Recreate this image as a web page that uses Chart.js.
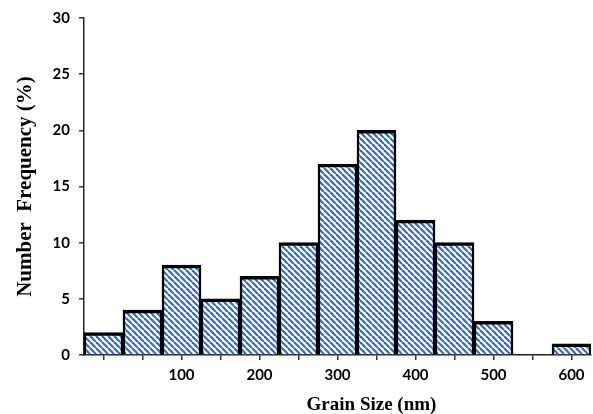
<!DOCTYPE html>
<html>
<head>
<meta charset="utf-8">
<script src="https://cdn.jsdelivr.net/npm/chart.js@4.4.1/dist/chart.umd.min.js"></script>
<style>
  html, body { margin: 0; padding: 0; background: #fff; }
  #wrap { width: 593px; height: 414px; }
</style>
</head>
<body>
<div id="wrap"><canvas id="grain-chart"></canvas></div>
<script>
  // grain size histogram, bins are 50 nm wide
  const binCenters = [0, 50, 100, 150, 200, 250, 300, 350, 400, 450, 500, 550, 600];
  const frequency = [2, 4, 8, 5, 7, 10, 17, 20, 12, 10, 3, 0, 1];
  const xTickValues = [0, 50, 100, 150, 200, 250, 300, 350, 400, 450, 500, 550, 600];
  const xTickLabels = ["", "", "100", "", "200", "", "300", "", "400", "", "500", "", "600"];
  const yTickValues = [0, 5, 10, 15, 20, 25, 30];

  // diagonal hatch fill
  function makeHatch() {
    const s = 6;
    const c = document.createElement("canvas");
    c.width = s;
    c.height = s;
    const g = c.getContext("2d");
    g.fillStyle = "#ffffff";
    g.fillRect(0, 0, s, s);
    g.strokeStyle = "#2f6cc8";
    g.lineWidth = 2.2;
    for (let x0 = -s; x0 <= s; x0 += s) {
      g.beginPath();
      g.moveTo(x0, 0);
      g.lineTo(x0 + s, s);
      g.stroke();
    }
    return g.createPattern(c, "repeat");
  }

  const tickFont = { family: "Lato", size: 15, weight: "bold" };

  // x axis title sits a little right of the plot centre
  const xTitlePlugin = {
    id: "xTitle",
    afterDraw(chart) {
      const ctx = chart.ctx;
      const area = chart.chartArea;
      ctx.save();
      ctx.font = "bold 19px 'Liberation Serif'";
      ctx.fillStyle = "#000";
      ctx.textAlign = "center";
      ctx.textBaseline = "alphabetic";
      ctx.fillText("Grain Size (nm)", (area.left + area.right) / 2 + 34, 410);
      ctx.restore();
    }
  };

  document.addEventListener("DOMContentLoaded", function () {
    const ctx = document.getElementById("grain-chart").getContext("2d");
    const points = binCenters.map((x, i) => ({ x: x, y: frequency[i] }));

    new Chart(ctx, {
      type: "bar",
      data: {
        datasets: [
          {
            data: points,
            backgroundColor: makeHatch(),
            borderColor: "#000000",
            borderWidth: { top: 3.5, left: 2.5, right: 2.5, bottom: 0 },
            borderSkipped: "bottom",
            barPercentage: 1.0,
            categoryPercentage: 1.0,
          },
        ],
      },
      options: {
        responsive: true,
        maintainAspectRatio: false,
        animation: false,
        layout: { padding: { left: 0, right: 2, top: 16, bottom: 0 } },
        plugins: {
          legend: { display: false },
          tooltip: { enabled: false },
        },
        scales: {
          x: {
            type: "linear",
            offset: false,
            min: -25,
            max: 625,
            afterBuildTicks: (scale) => {
              scale.ticks = xTickValues.map((v) => ({ value: v }));
            },
            afterFit: (scale) => {
              scale.height = 59;
            },
            ticks: {
              autoSkip: false,
              maxRotation: 0,
              padding: 6,
              color: "#000",
              font: tickFont,
              callback: (value) => {
                const i = xTickValues.indexOf(value);
                return i >= 0 ? xTickLabels[i] : "";
              },
            },
            grid: {
              drawOnChartArea: false,
              offset: false,
              tickLength: 5,
              color: "#333",
              lineWidth: 1.5,
            },
            border: { color: "#222", width: 1.5 },
          },
          y: {
            min: 0,
            max: 30,
            afterBuildTicks: (scale) => {
              scale.ticks = yTickValues.map((v) => ({ value: v }));
            },
            afterFit: (scale) => {
              scale.width = 84;
            },
            ticks: {
              padding: 9,
              color: "#000",
              font: tickFont,
            },
            grid: {
              drawOnChartArea: false,
              tickLength: 5,
              color: "#333",
              lineWidth: 1.5,
            },
            border: { color: "#222", width: 1.5 },
            title: {
              display: true,
              text: "Number  Frequency (%)",
              color: "#000",
              font: { family: "Liberation Serif", size: 21, weight: "bold" },
              padding: { top: 13, bottom: 0 },
            },
          },
        },
      },
      plugins: [xTitlePlugin],
    });
  });
</script>
</body>
</html>
